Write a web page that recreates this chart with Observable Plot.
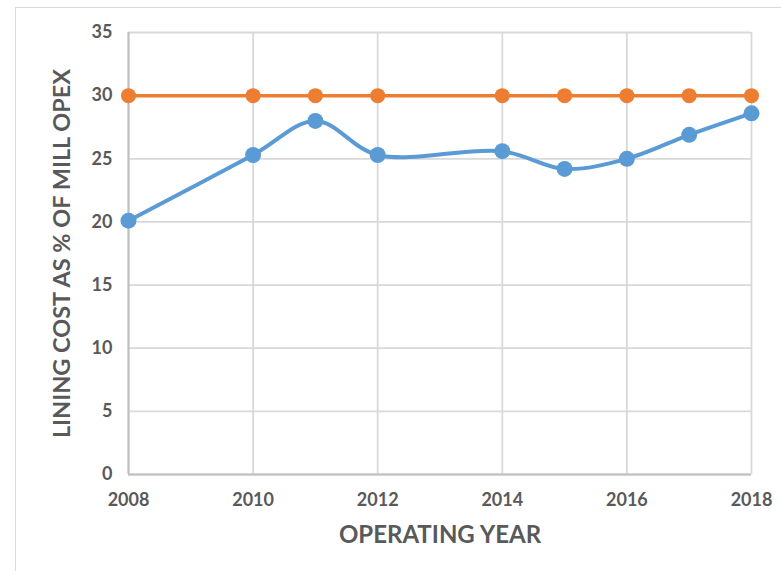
<!DOCTYPE html>
<html>
<head>
<meta charset="utf-8">
<script src="https://cdn.jsdelivr.net/npm/d3@7"></script>
<script src="https://cdn.jsdelivr.net/npm/@observablehq/plot@0.6"></script>
<style>
  html, body { margin: 0; padding: 0; background: #fff; overflow: hidden; }
  #wrap { position: relative; width: 781px; height: 571px; }
  #frame { position: absolute; left: 15px; top: 7px; width: 800px; height: 600px; border: 1.5px solid #d9d9d9; box-sizing: border-box; }
  #chart { position: absolute; left: 0; top: 0; }
</style>
</head>
<body>
<div id="wrap"><div id="frame"></div><div id="chart"></div></div>
<script>
const years = [2008, 2010, 2011, 2012, 2014, 2015, 2016, 2017, 2018];
const liningCost = [20.1, 25.3, 28.0, 25.3, 25.6, 24.2, 25.0, 26.9, 28.6];
const target = [30, 30, 30, 30, 30, 30, 30, 30, 30];
const xTicks = [2008, 2010, 2012, 2014, 2016, 2018];
const yTicks = [0, 5, 10, 15, 20, 25, 30, 35];
const xTitle = "OPERATING YEAR";
const yTitle = "LINING COST AS % OF MILL OPEX";

const blue = years.map((y, i) => ({year: y, value: liningCost[i]}));
const orange = years.map((y, i) => ({year: y, value: target[i]}));

const font = "Lato, 'Open Sans', sans-serif";
const grey = "#595959";

const chart = Plot.plot({
  width: 781,
  height: 571,
  marginLeft: 128,
  marginRight: 30,
  marginTop: 32,
  marginBottom: 97,
  style: {fontFamily: font, background: "transparent", overflow: "visible"},
  x: {domain: [2008, 2018], ticks: xTicks, tickFormat: d => String(d)},
  y: {domain: [0, 35], ticks: yTicks},
  marks: [
    Plot.ruleX(xTicks, {stroke: "#d9d9d9", strokeWidth: 1.8}),
    Plot.ruleY(yTicks, {stroke: "#d9d9d9", strokeWidth: 1.8}),
    Plot.ruleX([2008], {stroke: "#bfbfbf", strokeWidth: 2}),
    Plot.ruleY([0], {stroke: "#bfbfbf", strokeWidth: 2}),
    Plot.axisX({ticks: xTicks, tickFormat: d => String(d), tickSize: 0, tickPadding: 19, label: null, fontSize: 18, fontWeight: "bold", fill: grey}),
    Plot.axisY({ticks: yTicks, tickSize: 0, tickPadding: 16, label: null, fontSize: 18, fontWeight: "bold", fill: grey}),
    Plot.line(orange, {x: "year", y: "value", stroke: "#ED7D31", strokeWidth: 3.5}),
    Plot.dot(orange, {x: "year", y: "value", r: 7.5, fill: "#ED7D31"}),
    Plot.line(blue, {x: "year", y: "value", stroke: "#5B9BD5", strokeWidth: 4, curve: "catmull-rom"}),
    Plot.dot(blue, {x: "year", y: "value", r: 8, fill: "#5B9BD5"}),
    Plot.text([yTitle], {frameAnchor: "left", dx: -66, rotate: -90, textAnchor: "middle", fontSize: 23.5, fontWeight: "bold", fill: grey}),
    Plot.text([xTitle], {frameAnchor: "bottom", dy: 68, textAnchor: "middle", fontSize: 24, fontWeight: "bold", fill: grey})
  ]
});
document.getElementById("chart").appendChild(chart);
</script>
</body>
</html>
